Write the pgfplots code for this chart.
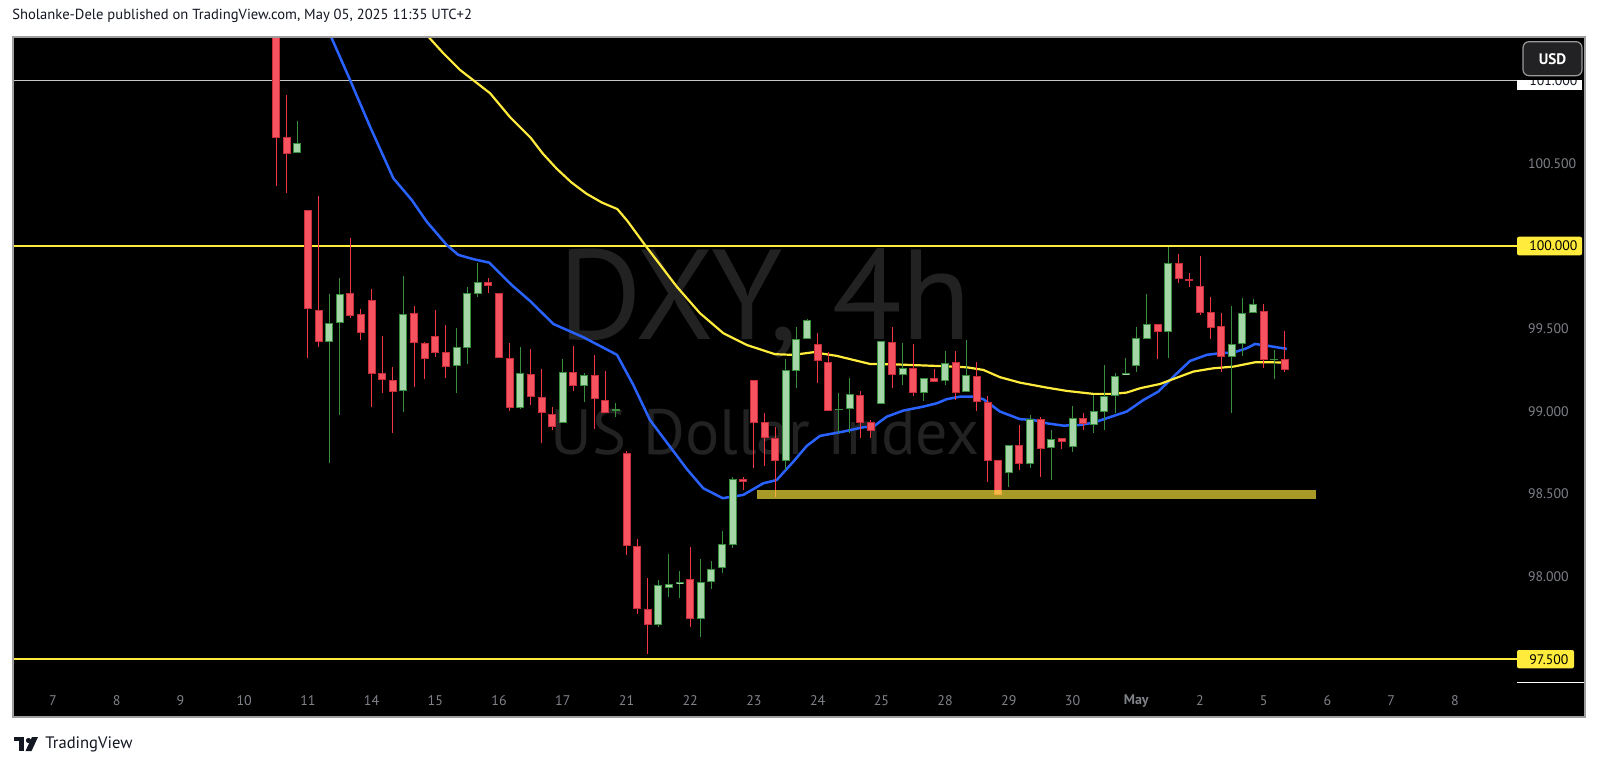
\documentclass[border=0pt]{standalone}
\usepackage{fontspec}
\setmainfont{PT Sans}
\usepackage{pgfplots}
\usepackage{pgfplotstable}
\pgfplotsset{compat=1.18}

\definecolor{upfill}{RGB}{165,214,167}
\definecolor{upline}{RGB}{56,142,60}
\definecolor{dnfill}{RGB}{247,82,95}
\definecolor{dnline}{RGB}{200,45,58}
\definecolor{dnwick}{RGB}{242,54,69}
\definecolor{maBlue}{RGB}{41,98,255}
\definecolor{maYel}{RGB}{255,235,59}
\definecolor{lvlYel}{RGB}{255,235,59}
\definecolor{wm}{RGB}{34,34,34}
\definecolor{axtext}{RGB}{128,130,138}
\definecolor{usdbg}{RGB}{34,34,36}
\definecolor{tvdark}{RGB}{19,23,34}

% 4h candles: x = candle index (6 per trading day, day "7" starts at 0)
\pgfplotstableread{
x o h l c
21 101.800 102.000 100.365 100.655
22 100.661 100.912 100.322 100.557
24 100.218 100.218 99.320 99.617
25 99.613 100.300 99.390 99.417
28 99.714 100.047 99.563 99.578
29 99.587 99.617 99.431 99.476
30 99.671 99.738 99.028 99.224
31 99.230 99.456 99.113 99.189
32 99.189 99.266 98.871 99.115
34 99.593 99.637 99.149 99.411
35 99.411 99.421 99.194 99.315
36 99.456 99.613 99.330 99.355
37 99.361 99.522 99.203 99.270
41 99.780 99.805 99.714 99.758
42 99.714 99.714 99.324 99.324
43 99.324 99.415 99.002 99.022
45 99.226 99.375 99.038 99.085
46 99.085 99.254 98.806 98.988
47 98.984 99.024 98.887 98.907
49 99.240 99.395 99.125 99.153
51 99.220 99.341 98.891 99.073
52 99.068 99.246 98.992 98.992
54 98.746 98.762 98.131 98.185
55 98.187 98.226 97.774 97.802
56 97.802 97.990 97.530 97.707
60 97.984 98.177 97.697 97.744
65 98.589 98.601 98.524 98.574
66 99.189 99.189 98.655 98.931
67 98.933 98.992 98.669 98.837
68 98.837 98.907 98.483 98.699
72 99.407 99.472 99.173 99.304
73 99.300 99.361 99.004 99.004
76 99.100 99.125 98.837 98.931
77 98.933 98.947 98.837 98.883
79 99.421 99.508 99.139 99.220
81 99.260 99.407 99.095 99.109
83 99.200 99.254 99.175 99.175
85 99.300 99.367 99.068 99.113
87 99.215 99.300 99.004 99.054
88 99.054 99.093 98.574 98.701
89 98.705 98.705 98.494 98.494
91 98.796 98.917 98.645 98.679
93 98.953 98.967 98.601 98.770
95 98.837 98.837 98.770 98.812
97 98.958 98.992 98.887 98.923
104 99.526 99.526 99.316 99.478
106 99.895 99.952 99.778 99.800
107 99.800 99.835 99.750 99.790
108 99.760 99.940 99.583 99.593
109 99.599 99.690 99.436 99.506
110 99.516 99.593 99.240 99.330
114 99.609 99.649 99.260 99.310
116 99.314 99.486 99.240 99.250
}\dntab

\pgfplotstableread{
x o h l c
23 100.563 100.756 100.563 100.621
26 99.417 99.708 98.685 99.536
27 99.536 99.805 98.978 99.708
33 99.123 99.819 98.998 99.587
38 99.274 99.502 99.113 99.391
39 99.385 99.754 99.284 99.714
40 99.708 99.895 99.693 99.784
44 99.022 99.391 99.014 99.230
48 98.927 99.314 98.927 99.240
50 99.153 99.230 99.058 99.220
53 99.004 99.052 98.967 99.012
57 97.707 97.979 97.693 97.949
58 97.930 98.135 97.878 97.953
59 97.955 98.034 97.869 97.969
61 97.744 98.104 97.633 97.969
62 97.969 98.094 97.925 98.044
63 98.050 98.278 98.024 98.195
64 98.191 98.601 98.171 98.590
69 98.699 99.314 98.645 99.250
70 99.246 99.512 99.139 99.436
71 99.439 99.560 99.436 99.552
74 99.010 99.109 98.867 99.014
75 99.014 99.200 98.867 99.105
78 99.044 99.427 99.044 99.427
80 99.220 99.411 99.159 99.260
82 99.109 99.200 99.064 99.200
84 99.185 99.367 99.159 99.294
86 99.119 99.431 99.119 99.220
90 98.628 98.796 98.544 98.796
92 98.681 98.978 98.655 98.953
94 98.776 98.887 98.584 98.832
96 98.782 99.032 98.756 98.958
98 98.917 99.099 98.870 99.002
99 98.998 99.280 98.887 99.094
100 99.094 99.234 98.988 99.215
101 99.220 99.321 99.220 99.234
102 99.276 99.512 99.240 99.442
103 99.437 99.708 99.437 99.528
105 99.478 99.992 99.324 99.895
111 99.330 99.637 98.992 99.407
112 99.407 99.684 99.335 99.597
113 99.597 99.678 99.597 99.649
115 99.310 99.371 99.194 99.318
}\uptab

\pgfplotsset{
  wick/.style={draw=none, forget plot,
    error bars/.cd, y dir=plus, y explicit, error mark=none,
    error bar style={draw=#1, line width=0.5pt}},
  bodyout/.style={draw=none, forget plot,
    error bars/.cd, y dir=plus, y explicit, error mark=none,
    error bar style={draw=#1, line width=4pt}},
  bodyin/.style={draw=none, forget plot,
    error bars/.cd, y dir=plus, y explicit, error mark=none,
    error bar style={draw=#1, line width=3pt}},
}

\begin{document}
\begin{tikzpicture}[x=0.5pt,y=0.5pt]
\fill[white] (0,0) rectangle (1600,766);
\fill[black] (13,49) rectangle (1585,729);
% watermark
\node[anchor=base, text=wm, font=\fontsize{64}{64}\selectfont, inner sep=0pt] at (765,426) {DXY, 4h};
\node[anchor=base, text=wm, font=\fontsize{32}{32}\selectfont, inner sep=0pt] at (765,311) {US Dollar Index};

\begin{axis}[
  at={(6.5pt,41.5pt)}, anchor=south west,
  scale only axis, width=752pt, height=323pt,
  xmin=-3.766, xmax=137.85, ymin=97.356, ymax=101.264,
  axis line style={draw=none}, tick style={draw=none},
  clip=true,
  xtick={0,6,...,132},
  xticklabels={7,8,9,10,11,14,15,16,17,21,22,23,24,25,28,29,30,\textbf{May},2,5,6,7,8},
  xticklabel style={anchor=center, yshift=-9pt, text=axtext, font=\fontsize{7}{8}\selectfont},
  ytick={98,98.5,99,99.5,100.5},
  yticklabel pos=right,
  scaled y ticks=false,
  yticklabel={\makebox[0pt][l]{\pgfmathprintnumber[fixed, fixed zerofill, precision=3, 1000 sep={}, assume math mode=true]{\tick}}},
  yticklabel style={anchor=center, xshift=5.5pt, inner sep=0pt, text=axtext, font=\fontsize{6.9}{8}\selectfont},
]
% horizontal levels
\addplot[white!78!black, line width=0.7pt, forget plot] coordinates {(-10,101) (150,101)};
\addplot[lvlYel, line width=1.3pt, forget plot] coordinates {(-10,100) (150,100)};
\addplot[lvlYel, line width=1.3pt, forget plot] coordinates {(-10,97.5) (150,97.5)};
% moving averages
\addplot[maBlue, line width=1.25pt, forget plot] coordinates {
(24.25,101.55) (26.18,101.266) (27.97,101.004) (29.85,100.722) (32.04,100.410) (33.78,100.278)
(35.19,100.147) (37.07,100.006) (38.16,99.946) (39.58,99.920) (41.08,99.899) (43.19,99.764)
(44.92,99.667) (47.11,99.528) (49.93,99.448) (53.11,99.341) (54.64,99.159) (56.21,98.947)
(59.67,98.651) (61.23,98.534) (63.06,98.474) (65.0,98.494) (66.88,98.564) (68.14,98.584)
(69.71,98.695) (70.97,98.790) (72.22,98.851) (74.42,98.877) (76.30,98.903) (77.24,98.907)
(78.50,98.967) (80.07,99.004) (81.95,99.028) (83.21,99.048) (84.15,99.073) (85.40,99.088)
(86.66,99.088) (87.60,99.073) (89.17,98.998) (91.05,98.952) (92.31,98.947) (93.57,98.927)
(95.13,98.913) (96.70,98.917) (97.96,98.931) (99.22,98.958) (101.10,98.998) (102.67,99.068)
(104.08,99.119) (105.49,99.209) (107.06,99.304) (108.63,99.341) (109.89,99.351) (111.14,99.355)
(112.40,99.381) (113.18,99.407) (114.28,99.397) (116.17,99.377)};
\addplot[maYel, line width=1.1pt, forget plot] coordinates {
(31.34,101.549) (35.34,101.266) (36.75,101.166) (38.32,101.065) (41.15,100.924) (43.05,100.778)
(44.97,100.655) (46.10,100.560) (47.40,100.469) (48.80,100.385) (50.25,100.315) (51.70,100.262)
(53.14,100.223) (54.10,100.150) (55.74,100.006)
(58.73,99.754) (60.92,99.593) (63.12,99.472) (65.32,99.401) (67.98,99.345) (69.71,99.341)
(71.59,99.357) (73.79,99.335) (76.93,99.286) (79.44,99.283) (83.21,99.274) (86.03,99.266)
(87.60,99.250) (89.17,99.206) (91.05,99.173) (93.57,99.143) (95.45,99.123) (97.96,99.105)
(99.84,99.105) (101.10,99.113) (102.35,99.139) (104.24,99.165) (105.49,99.195) (107.37,99.240)
(109.26,99.260) (111.14,99.270) (113.18,99.296) (114.91,99.296) (116.17,99.294)};
% candles: wicks
\addplot[wick=dnwick] table[x=x, y=l, y error plus expr={\thisrow{h}-\thisrow{l}}] {\dntab};
\addplot[wick=upline] table[x=x, y=l, y error plus expr={\thisrow{h}-\thisrow{l}}] {\uptab};
% candles: bodies
\addplot[bodyout=dnline] table[x=x, y expr={min(\thisrow{o},\thisrow{c})}, y error plus expr={max(abs(\thisrow{o}-\thisrow{c}),0.0062)}] {\dntab};
\addplot[bodyin=dnfill] table[x=x, y expr={min(\thisrow{o},\thisrow{c})+0.0061}, y error plus expr={max(abs(\thisrow{o}-\thisrow{c})-0.0122,0)}] {\dntab};
\addplot[bodyout=upline] table[x=x, y expr={min(\thisrow{o},\thisrow{c})}, y error plus expr={max(abs(\thisrow{o}-\thisrow{c}),0.0062)}] {\uptab};
\addplot[bodyin=upfill] table[x=x, y expr={min(\thisrow{o},\thisrow{c})+0.0061}, y error plus expr={max(abs(\thisrow{o}-\thisrow{c})-0.0122,0)}] {\uptab};
% support zone
\addplot[draw=none, fill=lvlYel, fill opacity=0.66, forget plot] coordinates {(66.29,98.470) (118.9,98.470) (118.9,98.524) (66.29,98.524)};
\end{axis}

% price-scale labels
\fill[white] (1517,676) rectangle (1582,695);
\node[anchor=west, inner sep=0pt, text=tvdark, font=\fontsize{6.9}{8}\selectfont] at (1529,685.3) {101.000};
\fill[black] (1517,686) rectangle (1584.5,728.5);
\fill[lvlYel, rounded corners=1pt] (1517,510.7) rectangle (1582,529.3);
\node[anchor=west, inner sep=0pt, text=black, font=\fontsize{6.9}{8}\selectfont] at (1529,520) {100.000};
\fill[lvlYel, rounded corners=1pt] (1517,97.7) rectangle (1574,116);
\node[anchor=west, inner sep=0pt, text=black, font=\fontsize{6.9}{8}\selectfont] at (1529,106.8) {97.500};
\draw[white, line width=0.6pt] (1517,83.3) -- (1585,83.3);
% USD button
\draw[fill=usdbg, draw=white!60!black, rounded corners=3pt, line width=0.6pt] (1523,690.3) rectangle (1582,724.3);
\node[text=white, inner sep=0pt, font=\bfseries\fontsize{7.6}{9}\selectfont] at (1552.5,707.3) {USD};
% frame
\draw[white!62!black, line width=0.7pt] (13,49) rectangle (1585,729);
% header
\node[anchor=west, inner sep=0pt, text=tvdark, font=\fontsize{7.3}{9}\selectfont] at (12,750.5) {Sholanke-Dele published on TradingView.com, May 05, 2025 11:35 UTC+2};
% footer logo
\fill[tvdark] (14,25) rectangle (24,29);
\fill[tvdark] (19,15) rectangle (24,29);
\fill[tvdark] (28.5,25.5) circle (2.6);
\fill[tvdark] (32,29) -- (38,29) -- (31.5,15) -- (25.5,15) -- cycle;
\node[anchor=west, inner sep=0pt, text=tvdark, font=\fontsize{8.3}{10}\selectfont] at (45,22) {TradingView};
\end{tikzpicture}
\end{document}
